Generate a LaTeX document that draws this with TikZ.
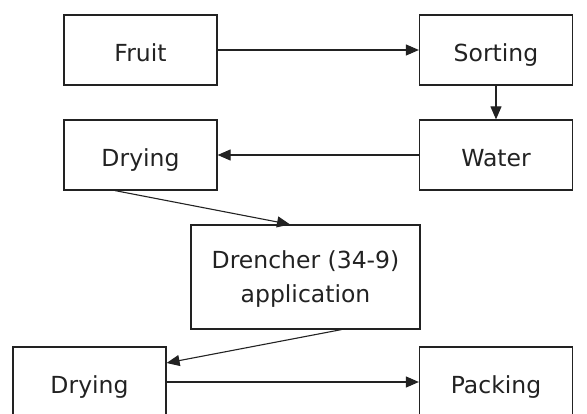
\documentclass[tikz,border=0pt]{standalone}
\usepackage{fontspec}
\setmainfont{DejaVu Sans}
\usetikzlibrary{arrows.meta}
\definecolor{ink}{HTML}{222222}
\begin{document}
\begin{tikzpicture}[x=1pt,y=-1pt,
  box/.style={draw=ink,line width=1.2pt,rectangle,minimum width=153pt,minimum height=70pt,inner sep=0pt,text=ink,font=\fontsize{23.5}{34}\selectfont},
  onebox/.style={box,text height=23.4pt,text depth=0pt},
  conn/.style={draw=ink,line width=1.1pt,-{Triangle[length=13pt,width=11pt]}}]
\useasboundingbox (0,0) rectangle (587,414);
\clip (0,0) rectangle (587,414);
\node[onebox] (fruit) at (140.5,50) {Fruit};
\node[onebox] (sort) at (496,50) {Sorting};
\node[onebox] (water) at (496,155) {Water};
\node[onebox] (dry1) at (140.5,155) {Drying};
\node[box,minimum width=229pt,minimum height=104pt,align=center] (dren) at (305.5,277) {\rule{0pt}{20.9pt}Drencher (34-9)\\application};
\node[onebox] (dry2) at (89.5,382) {Drying};
\node[onebox] (pack) at (496,382) {Packing};
\draw[conn] (fruit.east) -- (sort.west);
\draw[conn] (sort.south) -- (water.north);
\draw[conn] (water.west) -- (dry1.east);
\draw[conn] ([xshift=-25.5pt]dry1.south) -- ([xshift=-15.5pt]dren.north);
\draw[conn] ([xshift=36pt]dren.south) -- ([yshift=19pt]dry2.east);
\draw[conn] (dry2.east) -- (pack.west);
\end{tikzpicture}
\end{document}
